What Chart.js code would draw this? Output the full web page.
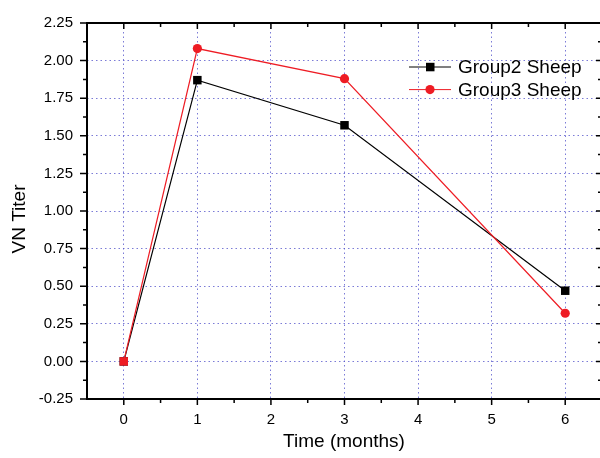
<!DOCTYPE html>
<html>
  <head>
    <meta charset="utf-8" />
    <script src="https://cdn.jsdelivr.net/npm/chart.js"></script>
    <style>
      html, body { margin: 0; padding: 0; background: #fff; overflow: hidden; }
      .wrap { width: 608px; height: 458px; position: relative; }
    </style>
  </head>
  <body>
    <div class="wrap"><canvas id="titerChart"></canvas></div>
    <script>
      const months = [0, 1, 3, 6];
      const group2 = [0, 1.87, 1.57, 0.47];
      const group3 = [0, 2.08, 1.88, 0.32];
      const xTicks = [0, 1, 2, 3, 4, 5, 6];
      const yTicks = [-0.25, 0, 0.25, 0.5, 0.75, 1, 1.25, 1.5, 1.75, 2, 2.25];
      const seriesNames = ["Group2 Sheep", "Group3 Sheep"];

      const FONT = "'Liberation Sans', Arial, sans-serif";
      const RED = "#ee1c24";
      const GRID = "rgba(90,90,205,0.8)";

      const toPoints = (ys) => months.map((m, i) => ({ x: m, y: ys[i] }));

      // frame, tick marks, legend and axis titles drawn Origin-style
      const originFrame = {
        id: "originFrame",
        afterDraw(chart) {
          const { ctx, chartArea: a, scales } = chart;
          const xs = scales.x, ys = scales.y;
          ctx.save();
          ctx.strokeStyle = "#000";
          ctx.lineWidth = 2;
          ctx.strokeRect(a.left, a.top, a.right - a.left, a.bottom - a.top);

          ctx.lineWidth = 1.5;
          ctx.beginPath();
          xTicks.forEach((v) => {
            const px = xs.getPixelForValue(v);
            ctx.moveTo(px, a.bottom); ctx.lineTo(px, a.bottom + 6);
            ctx.moveTo(px, a.top); ctx.lineTo(px, a.top + 6);
            const mx = xs.getPixelForValue(v + 0.5);
            if (v + 0.5 < xs.max) {
              ctx.moveTo(mx, a.bottom); ctx.lineTo(mx, a.bottom + 4);
              ctx.moveTo(mx, a.top); ctx.lineTo(mx, a.top + 4);
            }
          });
          yTicks.forEach((v, i) => {
            const py = ys.getPixelForValue(v);
            ctx.moveTo(a.left, py); ctx.lineTo(a.left - 7, py);
            ctx.moveTo(a.right, py); ctx.lineTo(a.right - 6, py);
            if (i < yTicks.length - 1) {
              const my = ys.getPixelForValue((v + yTicks[i + 1]) / 2);
              ctx.moveTo(a.left, my); ctx.lineTo(a.left - 4, my);
              ctx.moveTo(a.right, my); ctx.lineTo(a.right - 4, my);
            }
          });
          ctx.stroke();

          // legend
          ctx.font = "19px " + FONT;
          ctx.textBaseline = "middle";
          ctx.textAlign = "left";
          chart.data.datasets.forEach((ds, i) => {
            const y = 67 + i * 22.6;
            ctx.strokeStyle = ds.borderColor;
            ctx.lineWidth = 1;
            ctx.beginPath();
            ctx.moveTo(409, y); ctx.lineTo(451, y);
            ctx.stroke();
            ctx.fillStyle = ds.borderColor;
            ctx.beginPath();
            if (i === 0) ctx.rect(426, y - 4.2, 8.5, 8.5);
            else ctx.arc(430, y, 4.6, 0, Math.PI * 2);
            ctx.fill();
            ctx.fillStyle = "#000";
            ctx.fillText(ds.label, 458, y + 1);
          });

          // axis titles
          ctx.fillStyle = "#000";
          ctx.textAlign = "center";
          ctx.fillText("Time (months)", 344, 442);
          ctx.translate(20, 219);
          ctx.rotate(-Math.PI / 2);
          ctx.fillText("VN Titer", 0, 0);
          ctx.restore();
        },
      };

      new Chart(document.getElementById("titerChart"), {
        type: "line",
        data: {
          datasets: [
            {
              label: seriesNames[0],
              data: toPoints(group2),
              order: 2,
              borderColor: "#000",
              backgroundColor: "#000",
              borderWidth: 1.2,
              pointStyle: "rect",
              pointRadius: 6,
              pointBorderWidth: 0,
              pointBackgroundColor: "#000",
              tension: 0,
            },
            {
              label: seriesNames[1],
              data: toPoints(group3),
              order: 1,
              borderColor: RED,
              backgroundColor: RED,
              borderWidth: 1.2,
              pointStyle: (c) => (c.dataIndex === 0 ? "rect" : "circle"),
              pointRadius: (c) => (c.dataIndex === 0 ? 6 : 4.6),
              pointBorderWidth: 0,
              pointBackgroundColor: RED,
              tension: 0,
            },
          ],
        },
        options: {
          responsive: true,
          maintainAspectRatio: false,
          animation: false,
          layout: { padding: { top: 21, right: 0, left: 0, bottom: 0 } },
          plugins: {
            legend: { display: false },
            tooltip: { enabled: false },
          },
          scales: {
            x: {
              type: "linear",
              min: -0.5,
              max: 6.5,
              afterBuildTicks: (s) => { s.ticks = xTicks.map((v) => ({ value: v })); },
              afterFit: (s) => { s.height = 59; },
              grid: { color: GRID, lineWidth: 1, drawTicks: false },
              border: { display: false, dash: [1.5, 3] },
              ticks: {
                color: "#000",
                padding: 12,
                font: { family: FONT, size: 15 },
                callback: (v) => String(v),
              },
            },
            y: {
              min: -0.25,
              max: 2.25,
              afterBuildTicks: (s) => { s.ticks = yTicks.map((v) => ({ value: v })); },
              afterFit: (s) => { s.width = 87; },
              grid: { color: GRID, lineWidth: 1, drawTicks: false },
              border: { display: false, dash: [1.5, 3] },
              ticks: {
                color: "#000",
                padding: 14,
                font: { family: FONT, size: 15 },
                callback: (v) => Number(v).toFixed(2),
              },
            },
          },
        },
        plugins: [originFrame],
      });
    </script>
  </body>
</html>
